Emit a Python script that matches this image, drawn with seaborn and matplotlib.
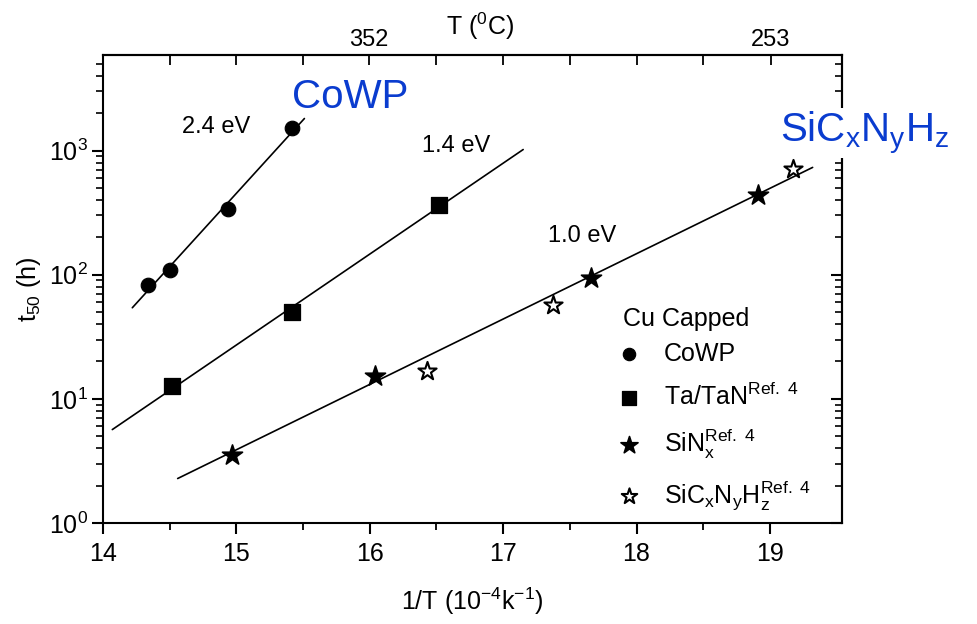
import numpy as np
import matplotlib
matplotlib.use("Agg")
import matplotlib.pyplot as plt
import seaborn as sns

# ---------------- data ----------------
cowp_x = [14.34, 14.50, 14.94, 15.42]
cowp_t50 = [83, 110, 340, 1530]
tatan_x = [14.52, 15.42, 16.52]
tatan_t50 = [12.7, 50.3, 367]
sinx_x = [14.97, 16.04, 17.66, 18.91]
sinx_t50 = [3.5, 15.3, 94.6, 442]
sicnh_x = [16.43, 17.37, 19.17]
sicnh_t50 = [16.8, 57.3, 716]

series_labels = ["CoWP", r"Ta/TaN$^{Ref.\ 4}$", r"SiN$_{x}^{Ref.\ 4}$",
                 r"SiC$_{x}$N$_{y}$H$_{z}^{Ref.\ 4}$"]
fit_labels = ["2.4 eV", "1.4 eV", "1.0 eV"]
cowp_fit_range = [14.22, 15.51]
tatan_fit_range = [14.07, 17.15]
sin_fit_range = [14.56, 19.32]

x_ticks = [14, 15, 16, 17, 18, 19]
x_minor = [14.5, 15.5, 16.5, 17.5, 18.5]
top_temps_c = [352, 253]
top_minor = [14.5, 15.0, 15.5, 16.5, 17.0, 17.5, 18.0, 18.5]

# ---------------- style ----------------
sns.set_style("ticks")
plt.rcParams.update({
    "font.family": ["Liberation Sans", "DejaVu Sans"],
    "mathtext.fontset": "custom",
    "mathtext.rm": "Liberation Sans",
    "mathtext.it": "Liberation Sans:italic",
    "mathtext.bf": "Liberation Sans:bold",
    "mathtext.default": "regular",
    "axes.linewidth": 1.5,
    "text.color": "black",
    "axes.labelcolor": "black",
    "axes.edgecolor": "black",
    "xtick.color": "black",
    "ytick.color": "black",
})

fig = plt.figure(figsize=(9.77, 6.24), dpi=100)
ax = fig.add_axes([0.1054, 0.1619, 0.7564, 0.7500])


def fit_line(xs, ys, rng):
    b, a = np.polyfit(xs, np.log10(ys), 1)
    xr = np.array(rng)
    return xr, 10 ** (a + b * xr)


for xs, ys, rng in [(cowp_x, cowp_t50, cowp_fit_range),
                    (tatan_x, tatan_t50, tatan_fit_range),
                    (sinx_x, sinx_t50, sin_fit_range)]:
    xr, yr = fit_line(xs, ys, rng)
    sns.lineplot(x=xr, y=yr, color="black", linewidth=1.2, ax=ax, zorder=2)

sns.scatterplot(x=cowp_x, y=cowp_t50, marker="o", s=110, color="black",
                edgecolor="black", label=series_labels[0], ax=ax, zorder=3)
sns.scatterplot(x=tatan_x, y=tatan_t50, marker="s", s=130, color="black",
                edgecolor="black", label=series_labels[1], ax=ax, zorder=3)
sns.scatterplot(x=sinx_x, y=sinx_t50, marker="*", s=230, color="black",
                edgecolor="black", label=series_labels[2], ax=ax, zorder=3)
sns.scatterplot(x=sicnh_x, y=sicnh_t50, marker="*", s=190, facecolor="white",
                edgecolor="black", linewidth=1.5, label=series_labels[3],
                ax=ax, zorder=3)

ax.set_yscale("log")
ax.set_xlim(14, 19.54)
ax.set_ylim(1, 10 ** 3.77)
ax.set_xticks(x_ticks)
ax.set_xticks(x_minor, minor=True)
ax.set_xticklabels([str(t) for t in x_ticks])
ax.tick_params(axis="x", which="major", direction="out", length=8, width=1.5,
               labelsize=18, pad=6, top=False)
ax.tick_params(axis="x", which="minor", direction="out", length=5, width=1.3,
               top=False)
ax.tick_params(axis="y", which="major", direction="out", length=8, width=1.5,
               labelsize=18, pad=3, right=False)
ax.tick_params(axis="y", which="minor", direction="out", length=5, width=1.2,
               right=False)

ax.set_xlabel(r"1/T (10$^{-4}$k$^{-1}$)", fontsize=18, labelpad=14)
ax.set_ylabel(r"t$_{50}$ (h)", fontsize=18, labelpad=4)

# right axis: inward log ticks
ax_r = ax.secondary_yaxis("right")
ax_r.tick_params(axis="y", which="major", direction="in", length=8, width=1.5,
                 labelright=False)
ax_r.tick_params(axis="y", which="minor", direction="in", length=5, width=1.2,
                 labelright=False)

# top axis: temperature in degC
ax_t = ax.secondary_xaxis("top")
top_pos = [1e4 / (t + 273.15) for t in top_temps_c]
ax_t.set_xticks(top_pos)
ax_t.set_xticklabels([str(t) for t in top_temps_c])
ax_t.set_xticks(top_minor, minor=True)
ax_t.tick_params(axis="x", which="both", direction="in", length=7, width=1.3,
                 labelsize=17, pad=3)
ax.text(0.51, 1.043, r"T ($^{0}$C)", transform=ax.transAxes, fontsize=18,
        ha="center", va="baseline")

# activation-energy labels
ax.text(0.107, 0.833, fit_labels[0], transform=ax.transAxes, fontsize=17,
        va="baseline")
ax.text(0.432, 0.793, fit_labels[1], transform=ax.transAxes, fontsize=17,
        va="baseline")
ax.text(0.602, 0.600, fit_labels[2], transform=ax.transAxes, fontsize=17,
        va="baseline")

# legend (title drawn as separate text)
ax.text(0.7037, 0.421, "Cu Capped", transform=ax.transAxes, fontsize=18,
        va="baseline")
leg = ax.legend(loc="upper left", bbox_to_anchor=(0.698, 0.387),
                frameon=False, fontsize=18, alignment="left",
                handlelength=0.8, handletextpad=1.0, labelspacing=0.68,
                borderpad=0, borderaxespad=0, markerscale=0.85)

# blue annotations
blue = "#0a3ccf"
fig.text(0.2989, 0.8269, "CoWP", color=blue, fontsize=29, va="baseline",
         zorder=10)
fig.text(0.7984, 0.7724, r"SiC$_{x}$N$_{y}$H$_{z}$", color=blue, fontsize=29,
         va="baseline", zorder=10,
         bbox=dict(facecolor="white", edgecolor="none", pad=1))

fig.savefig("out.png", dpi=100)
